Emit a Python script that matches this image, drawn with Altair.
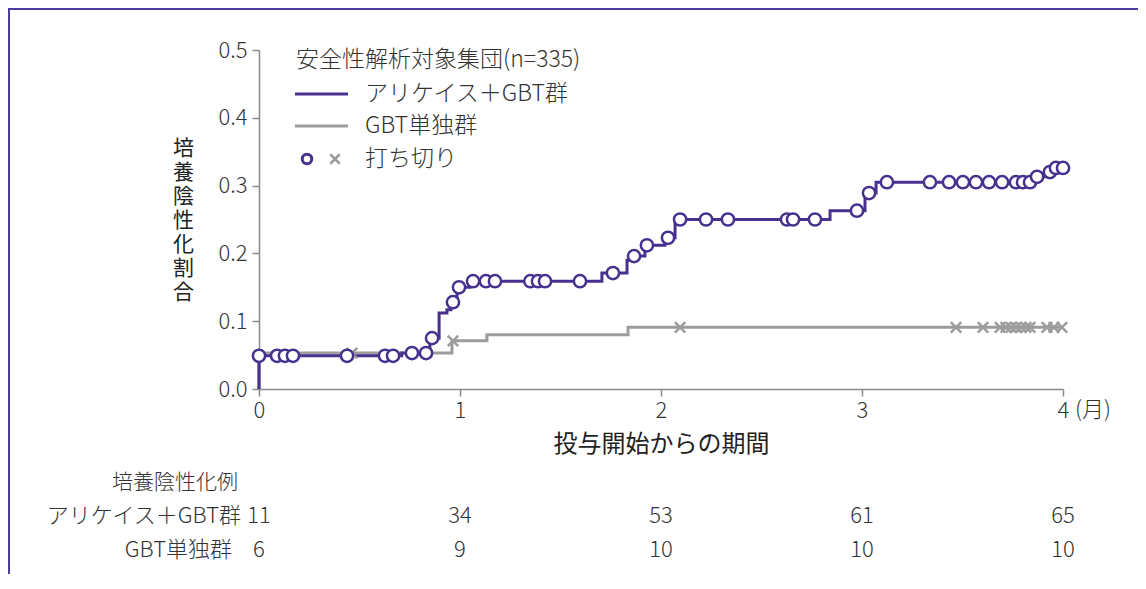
import altair as alt
import pandas as pd

# ---------------- data ----------------
# アリケイス＋GBT群 : step points (time in months, cumulative proportion)
purple_step_t = [0, 0, 0.71, 0.85, 0.896, 0.935, 0.955, 0.985, 1.05, 1.706, 1.831, 1.86,
                 1.92, 2.02, 2.07, 2.841, 3.015, 3.07, 3.86, 3.925, 3.955, 4.0]
purple_step_y = [0, 0.049, 0.053, 0.075, 0.112, 0.117, 0.128, 0.150, 0.159, 0.171, 0.190, 0.196,
                 0.212, 0.223, 0.250, 0.263, 0.289, 0.305, 0.313, 0.320, 0.326, 0.326]
purple_cens_t = [0, 0.090, 0.129, 0.169, 0.438, 0.627, 0.667, 0.761, 0.831, 0.861, 0.965, 0.995,
                 1.065, 1.129, 1.174, 1.350, 1.388, 1.423, 1.597, 1.761, 1.866, 1.930, 2.035,
                 2.095, 2.224, 2.333, 2.627, 2.657, 2.766, 2.975, 3.035, 3.124, 3.338, 3.433,
                 3.502, 3.567, 3.632, 3.697, 3.766, 3.801, 3.836, 3.871, 3.935, 3.965, 4.0]

# GBT単独群
gray_step_t = [0, 0, 0.96, 1.134, 1.836, 4.0]
gray_step_y = [0, 0.053, 0.071, 0.080, 0.091, 0.091]
gray_cens_t = [0.463, 0.965, 2.095, 3.468, 3.602, 3.687, 3.716, 3.741, 3.766, 3.791, 3.816,
               3.836, 3.920, 3.955, 3.995]

# 培養陰性化例 table
table_t = [0, 1, 2, 3, 4]
table_row1 = [11, 34, 53, 61, 65]
table_row2 = [6, 9, 10, 10, 10]

x_ticks = [0, 1, 2, 3, 4]
y_ticks = [0.0, 0.1, 0.2, 0.3, 0.4, 0.5]

# ---------------- helpers ----------------
def level_at(step_t, step_y, ts):
    out = []
    for t in ts:
        v = step_y[0]
        for st, sy in zip(step_t, step_y):
            if st <= t + 1e-9:
                v = sy
        out.append(v)
    return out

purple_df = pd.DataFrame({"t": purple_step_t, "y": purple_step_y, "i": range(len(purple_step_t))})
gray_df = pd.DataFrame({"t": gray_step_t, "y": gray_step_y, "i": range(len(gray_step_t))})
purple_c = pd.DataFrame({"t": purple_cens_t, "y": level_at(purple_step_t, purple_step_y, purple_cens_t)})
gray_c = pd.DataFrame({"t": gray_cens_t, "y": level_at(gray_step_t, gray_step_y, gray_cens_t)})
table_df = pd.DataFrame({"t": table_t, "r1": table_row1, "r2": table_row2})
one = pd.DataFrame({"a": [0]})

FONT = "Noto Sans CJK JP"
FW = 300
PURPLE = "#46318f"
GRAY = "#9c9c9c"
TXT = "#333333"
AX = "#8a8a8a"
W, H = 804, 339
XSHAPE = "M-1,-1L1,1M-1,1L1,-1"

xs = alt.Scale(domain=[0, 4], nice=False, zero=False)
ys = alt.Scale(domain=[0, 0.5], nice=False)

xaxis = alt.Axis(values=x_ticks, format="d", title="投与開始からの期間", grid=False,
                 labelFontSize=22, labelColor=TXT, labelPadding=4, labelFlush=False,
                 labelFontWeight=FW, labelFont=FONT,
                 tickSize=7, tickColor=AX, tickWidth=1.5, domainColor=AX, domainWidth=1.5,
                 titleFontSize=24, titleColor="#222222", titleFontWeight="normal", titleFont=FONT,
                 titleY=55, titleBaseline="middle")
yaxis = alt.Axis(values=y_ticks, format=".1f", title=list("培養陰性化割合"), titleAngle=0,
                 titleX=-76, titleY=98, titleAlign="center", titleBaseline="middle",
                 titleLineHeight=24, titleFontSize=21, titleColor="#222222",
                 titleFontWeight=400, titleFont=FONT, grid=False,
                 labelFontSize=22, labelColor=TXT, labelPadding=5, labelFontWeight=FW,
                 labelFont=FONT,
                 tickSize=7, tickColor=AX, tickWidth=1.5, domainColor=AX, domainWidth=1.5)

X = alt.X("t:Q", scale=xs, axis=xaxis)
Y = alt.Y("y:Q", scale=ys, axis=yaxis)

gray_line = alt.Chart(gray_df).mark_line(interpolate="step-after", color=GRAY, strokeWidth=3).encode(
    x=X, y=Y, order="i:Q")
purple_line = alt.Chart(purple_df).mark_line(interpolate="step-after", color=PURPLE, strokeWidth=3).encode(
    x=X, y=Y, order="i:Q")
gray_x = alt.Chart(gray_c).mark_point(shape=XSHAPE, filled=False, stroke=GRAY, strokeWidth=2.5,
                                      size=110, opacity=1).encode(x=X, y=Y)
purple_o = alt.Chart(purple_c).mark_point(shape="circle", filled=True, fill="white", stroke=PURPLE,
                                          strokeWidth=2.5, size=150, opacity=1, fillOpacity=1,
                                          strokeOpacity=1).encode(x=X, y=Y)

# month unit after the x-axis
month = alt.Chart(one).mark_text(text="(月)", align="left", baseline="middle", fontSize=22,
                                 fontWeight=FW, color=TXT, font=FONT, dx=12).encode(
    x=alt.value(W), y=alt.value(H + 21))

# legend (decorative)
def txt(s, x, y, size=23, align="left"):
    return alt.Chart(one).mark_text(text=s, align=align, baseline="middle", fontSize=size,
                                    fontWeight=FW, color=TXT, font=FONT).encode(
        x=alt.value(x), y=alt.value(y))

leg = [
    txt("安全性解析対象集団(n=335)", 37, 10),
    alt.Chart(one).mark_rule(color=PURPLE, strokeWidth=3).encode(
        x=alt.value(36), x2=alt.value(89), y=alt.value(44)),
    txt("アリケイス＋GBT群", 106, 44),
    alt.Chart(one).mark_rule(color=GRAY, strokeWidth=3).encode(
        x=alt.value(36), x2=alt.value(89), y=alt.value(76)),
    txt("GBT単独群", 106, 76),
    alt.Chart(one).mark_point(shape="circle", filled=True, fill="white", stroke=PURPLE,
                              strokeWidth=3, size=90, opacity=1).encode(
        x=alt.value(48), y=alt.value(109)),
    alt.Chart(one).mark_point(shape=XSHAPE, filled=False, stroke=GRAY, strokeWidth=2.5,
                              size=90, opacity=1).encode(x=alt.value(76), y=alt.value(109)),
    txt("打ち切り", 106, 109),
]

# table below
table = [
    txt("培養陰性化例", -21, 433, size=21, align="right"),
    txt("アリケイス＋GBT群", -18, 466, size=22, align="right"),
    txt("GBT単独群", -27, 500, size=22, align="right"),
    alt.Chart(table_df).mark_text(fontSize=22, fontWeight=FW, color=TXT, font=FONT,
                                  baseline="middle").encode(
        x=alt.X("t:Q", scale=xs, axis=xaxis), y=alt.value(466), text="r1:Q"),
    alt.Chart(table_df).mark_text(fontSize=22, fontWeight=FW, color=TXT, font=FONT,
                                  baseline="middle").encode(
        x=alt.X("t:Q", scale=xs, axis=xaxis), y=alt.value(500), text="r2:Q"),
]

# frame
frame = [
    alt.Chart(one).mark_rule(color="#4b3c99", strokeWidth=2).encode(
        x=alt.value(-251), x2=alt.value(W + 80), y=alt.value(-41)),
    alt.Chart(one).mark_rule(color="#4b3c99", strokeWidth=2).encode(
        x=alt.value(-250), y=alt.value(-42), y2=alt.value(H + 190)),
]

chart = alt.layer(gray_line, purple_line, gray_x, purple_o, month, *leg, *table, *frame).properties(
    width=W, height=H,
    autosize=alt.AutoSizeParams(type="none"),
    padding={"left": 251, "top": 42, "right": 75, "bottom": 185},
).configure(font=FONT, background="white").configure_view(stroke=None)

chart.save("out.html", embed_options={"renderer": "svg", "actions": False})
